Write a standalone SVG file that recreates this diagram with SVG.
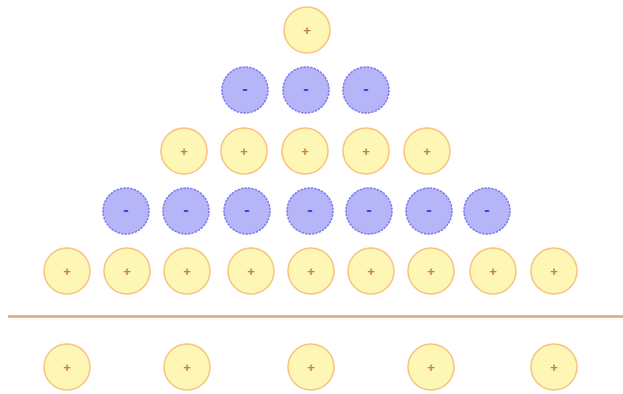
<svg xmlns="http://www.w3.org/2000/svg" width="623" height="394" viewBox="0 0 623 394">
<style>
.p circle{fill:#fdf6b4;stroke:#f9c27e;stroke-width:1.5}
.n circle{fill:#b5b5f7;stroke:#7a7af2;stroke-width:1.5;stroke-dasharray:2.5 1}
.p text{fill:#b8864a;font-family:"Liberation Sans",Arial,sans-serif;font-size:13px;font-weight:bold;text-anchor:middle}
.n text{fill:#3f3fe0;font-family:"Liberation Sans",Arial,sans-serif;font-size:16px;font-weight:bold;text-anchor:middle}
</style>
<rect width="623" height="394" fill="#fff"/>
<g id="r0"><g id="p0" class="p" transform="translate(307,30)"><circle r="23"/><text y="4.5">+</text></g></g>
<g id="r1">
<g id="m1a" class="n" transform="translate(245,90)"><circle r="23"/><text y="4">-</text></g>
<g id="m1b" class="n" transform="translate(306,90)"><circle r="23"/><text y="4">-</text></g>
<g id="m1c" class="n" transform="translate(366,90)"><circle r="23"/><text y="4">-</text></g>
</g>
<g id="r2">
<g id="p2a" class="p" transform="translate(184,151)"><circle r="23"/><text y="4.5">+</text></g>
<g id="p2b" class="p" transform="translate(244,151)"><circle r="23"/><text y="4.5">+</text></g>
<g id="p2c" class="p" transform="translate(305,151)"><circle r="23"/><text y="4.5">+</text></g>
<g id="p2d" class="p" transform="translate(366,151)"><circle r="23"/><text y="4.5">+</text></g>
<g id="p2e" class="p" transform="translate(427,151)"><circle r="23"/><text y="4.5">+</text></g>
</g>
<g id="r3">
<g id="m3a" class="n" transform="translate(126,211)"><circle r="23"/><text y="4">-</text></g>
<g id="m3b" class="n" transform="translate(186,211)"><circle r="23"/><text y="4">-</text></g>
<g id="m3c" class="n" transform="translate(247,211)"><circle r="23"/><text y="4">-</text></g>
<g id="m3d" class="n" transform="translate(310,211)"><circle r="23"/><text y="4">-</text></g>
<g id="m3e" class="n" transform="translate(369,211)"><circle r="23"/><text y="4">-</text></g>
<g id="m3f" class="n" transform="translate(429,211)"><circle r="23"/><text y="4">-</text></g>
<g id="m3g" class="n" transform="translate(487,211)"><circle r="23"/><text y="4">-</text></g>
</g>
<g id="r4">
<g id="p4a" class="p" transform="translate(67,271)"><circle r="23"/><text y="4.5">+</text></g>
<g id="p4b" class="p" transform="translate(127,271)"><circle r="23"/><text y="4.5">+</text></g>
<g id="p4c" class="p" transform="translate(187,271)"><circle r="23"/><text y="4.5">+</text></g>
<g id="p4d" class="p" transform="translate(251,271)"><circle r="23"/><text y="4.5">+</text></g>
<g id="p4e" class="p" transform="translate(311,271)"><circle r="23"/><text y="4.5">+</text></g>
<g id="p4f" class="p" transform="translate(371,271)"><circle r="23"/><text y="4.5">+</text></g>
<g id="p4g" class="p" transform="translate(431,271)"><circle r="23"/><text y="4.5">+</text></g>
<g id="p4h" class="p" transform="translate(493,271)"><circle r="23"/><text y="4.5">+</text></g>
<g id="p4i" class="p" transform="translate(554,271)"><circle r="23"/><text y="4.5">+</text></g>
</g>
<line id="divider" x1="8" y1="316.5" x2="623" y2="316.5" stroke="#dba77a" stroke-width="2.5"/>
<g id="r5">
<g id="p5a" class="p" transform="translate(67,367)"><circle r="23"/><text y="4.5">+</text></g>
<g id="p5b" class="p" transform="translate(187,367)"><circle r="23"/><text y="4.5">+</text></g>
<g id="p5c" class="p" transform="translate(311,367)"><circle r="23"/><text y="4.5">+</text></g>
<g id="p5d" class="p" transform="translate(431,367)"><circle r="23"/><text y="4.5">+</text></g>
<g id="p5e" class="p" transform="translate(554,367)"><circle r="23"/><text y="4.5">+</text></g>
</g>
</svg>
